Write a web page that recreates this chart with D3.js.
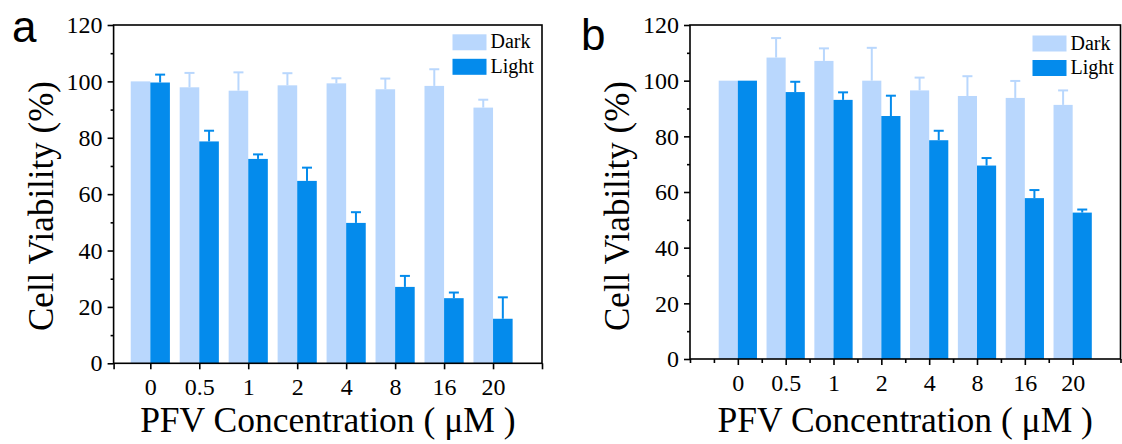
<!DOCTYPE html>
<html>
<head>
<meta charset="utf-8">
<script src="https://cdn.jsdelivr.net/npm/d3@7"></script>
<style>
  body { margin: 0; background: #fff; }
  svg { display: block; }
</style>
</head>
<body>
<div id="chart"></div>
<script>
// concentrations (uM) on the x axis
var categories = ["0", "0.5", "1", "2", "4", "8", "16", "20"];
var yTicks = [0, 20, 40, 60, 80, 100, 120];
var yMinor = [10, 30, 50, 70, 90, 110];

// panel a
var aDark = [100, 97.9, 96.7, 98.6, 99.3, 97.2, 98.4, 90.7];
var aDarkErr = [0, 5.1, 6.5, 4.3, 1.8, 3.8, 5.9, 2.8];
var aLight = [99.6, 78.7, 72.5, 64.7, 49.8, 27.1, 23.1, 15.8];
var aLightErr = [2.8, 3.8, 1.6, 4.7, 3.8, 3.9, 2.0, 7.6];

// panel b
var bDark = [100, 108.3, 107.1, 100, 96.5, 94.5, 93.8, 91.3];
var bDarkErr = [0, 7.0, 4.5, 11.8, 4.6, 7.1, 6.1, 5.2];
var bLight = [100, 95.9, 93.1, 87.3, 78.6, 69.5, 57.8, 52.6];
var bLightErr = [0, 3.7, 2.7, 7.3, 3.4, 2.7, 2.9, 1.1];

var darkColor = "#b9d7fd";
var lightColor = "#048bec";
var serif = "'Liberation Serif', 'Times New Roman', serif";

var svg = d3.select("#chart")
  .append("svg")
  .attr("width", 1122)
  .attr("height", 444);

function drawPanel(p) {
  var g = svg.append("g");

  var x = d3.scaleLinear().domain(p.xDomain).range([p.left, p.right]);
  var y = d3.scaleLinear().domain([0, 120]).range([p.bottom, p.top]);
  var barW = x(0.4) - x(0);

  // bars
  var series = [
    {vals: p.dark, err: p.darkErr, color: darkColor, off: -0.4},
    {vals: p.light, err: p.lightErr, color: lightColor, off: 0}
  ];
  series.forEach(function(s) {
    g.append("g").selectAll("rect")
      .data(s.vals)
      .join("rect")
      .attr("x", function(d, i) { return x(i + s.off); })
      .attr("y", function(d) { return y(d); })
      .attr("width", barW)
      .attr("height", function(d) { return y(0) - y(d); })
      .attr("fill", s.color);

    // upward error bars
    var eb = g.append("g")
      .attr("stroke", s.color)
      .attr("stroke-width", 2)
      .selectAll("g")
      .data(s.vals.map(function(v, i) { return {i: i, v: v, e: s.err[i]}; })
        .filter(function(d) { return d.e > 0; }))
      .join("g");
    eb.append("line")
      .attr("x1", function(d) { return x(d.i + s.off + 0.2); })
      .attr("x2", function(d) { return x(d.i + s.off + 0.2); })
      .attr("y1", function(d) { return y(d.v); })
      .attr("y2", function(d) { return y(d.v + d.e); });
    eb.append("line")
      .attr("x1", function(d) { return x(d.i + s.off + 0.2) - 5; })
      .attr("x2", function(d) { return x(d.i + s.off + 0.2) + 5; })
      .attr("y1", function(d) { return y(d.v + d.e); })
      .attr("y2", function(d) { return y(d.v + d.e); });
  });

  // frame
  g.append("rect")
    .attr("x", p.left)
    .attr("y", p.top)
    .attr("width", p.right - p.left)
    .attr("height", p.bottom - p.top)
    .attr("fill", "none")
    .attr("stroke", "#000")
    .attr("stroke-width", 1.6);

  // y axis
  var yAxis = g.append("g")
    .attr("transform", "translate(" + p.left + ",0)")
    .call(d3.axisLeft(y).tickValues(yTicks).tickSize(6).tickPadding(5));
  yAxis.select(".domain").remove();
  yAxis.selectAll("line").attr("stroke-width", 1.6);
  yAxis.selectAll("text")
    .style("font-family", serif)
    .style("font-size", "24px")
    .attr("fill", "#000");

  var yMin = g.append("g")
    .attr("transform", "translate(" + p.left + ",0)")
    .call(d3.axisLeft(y).tickValues(yMinor).tickSize(3).tickFormat(""));
  yMin.select(".domain").remove();
  yMin.selectAll("line").attr("stroke-width", 1.6);

  // x axis
  var xAxis = g.append("g")
    .attr("transform", "translate(0," + p.bottom + ")")
    .call(d3.axisBottom(x).tickValues(d3.range(categories.length))
      .tickSize(6)
      .tickFormat(function(i) { return categories[i]; }));
  xAxis.select(".domain").remove();
  xAxis.selectAll("line").attr("stroke-width", 1.6);
  xAxis.selectAll("text")
    .attr("y", p.labelOff)
    .attr("dy", 0)
    .style("font-family", serif)
    .style("font-size", "24px")
    .attr("fill", "#000");

  var xMin = g.append("g")
    .attr("transform", "translate(0," + p.bottom + ")")
    .call(d3.axisBottom(x).tickValues(p.xMinor).tickSize(p.minorLen).tickFormat(""));
  xMin.select(".domain").remove();
  xMin.selectAll("line").attr("stroke-width", 1.6);

  // axis titles
  g.append("text")
    .attr("x", (p.left + p.right) / 2)
    .attr("y", 432)
    .attr("text-anchor", "middle")
    .style("font-family", serif)
    .style("font-size", "35.5px")
    .text("PFV Concentration ( \u03bcM )");

  g.append("text")
    .attr("transform", "translate(" + (p.left - 61) + ",206) rotate(-90)")
    .attr("text-anchor", "middle")
    .style("font-family", serif)
    .style("font-size", "35px")
    .text("Cell Viability (%)");

  // panel letter
  g.append("text")
    .attr("x", p.letterX)
    .attr("y", p.letterY)
    .style("font-family", "'Liberation Sans', Arial, sans-serif")
    .style("font-size", "44px")
    .text(p.letter);

  // legend
  var leg = g.append("g");
  [["Dark", darkColor], ["Light", lightColor]].forEach(function(d, i) {
    leg.append("rect")
      .attr("x", p.legX)
      .attr("y", p.legY + i * 24.5)
      .attr("width", 34)
      .attr("height", 16)
      .attr("fill", d[1]);
    leg.append("text")
      .attr("x", p.legX + 38)
      .attr("y", p.legY + i * 24.5 + 14)
      .style("font-family", serif)
      .style("font-size", "20px")
      .text(d[0]);
  });
}

drawPanel({
  letter: "a", letterX: 12, letterY: 42,
  left: 113.6, right: 542, top: 25, bottom: 363.3,
  xDomain: [-0.75, 8], xMinor: [-0.75, 8], minorLen: 6,
  labelOff: 31.7,
  dark: aDark, darkErr: aDarkErr, light: aLight, lightErr: aLightErr,
  legX: 452.5, legY: 34.3
});

drawPanel({
  letter: "b", letterX: 581, letterY: 50,
  left: 690, right: 1120.5, top: 25, bottom: 359,
  xDomain: [-1, 8],
  xMinor: [-1, -0.5, 0.5, 1.5, 2.5, 3.5, 4.5, 5.5, 6.5, 8],
  minorLen: 4,
  labelOff: 32,
  dark: bDark, darkErr: bDarkErr, light: bLight, lightErr: bLightErr,
  legX: 1032.5, legY: 35.5
});
</script>
</body>
</html>
